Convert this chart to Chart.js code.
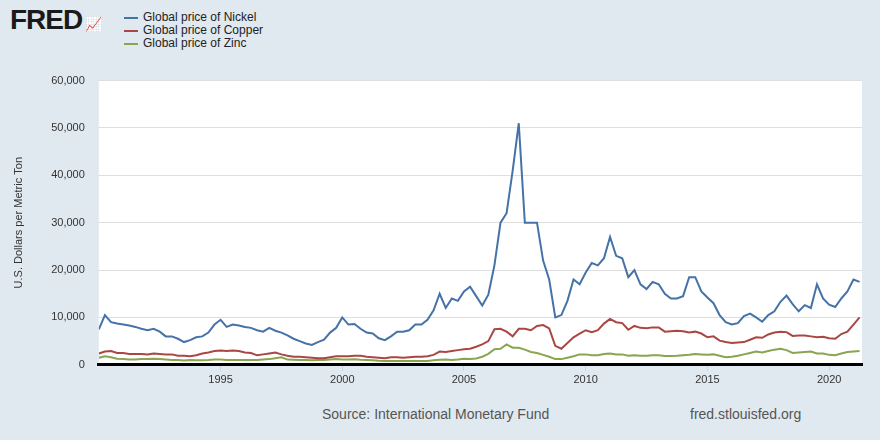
<!DOCTYPE html>
<html><head><meta charset="utf-8">
<script src="https://cdn.jsdelivr.net/npm/chart.js@4"></script>
<style>
body{margin:0;width:880px;height:440px;background:#e1e9f0;font-family:"Liberation Sans",Arial,sans-serif;position:relative;overflow:hidden}
#logo{position:absolute;left:10px;top:4px;font:bold 28px "Liberation Sans",Arial;color:#1a1a1a;letter-spacing:-1px}
#leg{position:absolute;left:124px;top:11px;font-size:12px;color:#222;line-height:13px}
#leg div span{display:inline-block;width:14px;height:2px;margin-right:5px;vertical-align:middle}
#src{position:absolute;left:322px;top:406px;font-size:14px;color:#555}
#url{position:absolute;left:690px;top:406px;font-size:14px;color:#555}
#wrap{position:absolute;left:0;top:60px;width:880px;height:330px}
</style></head><body>
<div id="logo">FRED<span style="font-size:14px;color:#4a7bb0"> &#x1F4C8;</span></div>
<div id="leg">
<div><span style="background:#4572a7"></span>Global price of Nickel</div>
<div><span style="background:#aa4643"></span>Global price of Copper</div>
<div><span style="background:#89a54e"></span>Global price of Zinc</div>
</div>
<div id="wrap"><canvas id="c" width="880" height="330"></canvas></div>
<div id="src">Source: International Monetary Fund</div>
<div id="url">fred.stlouisfed.org</div>
<script>
const startYear = 1990;
const nickel = [7.5,10.5,9.0,8.7, 8.5,8.3,8.0,7.6, 7.3,7.6,7.0,6.0, 6.0,5.5,4.8,5.2, 5.8,6.0,6.8,8.5, 9.5,8.0,8.5,8.3, 8.0,7.8,7.3,7.0, 7.8,7.2,6.8,6.2, 5.5,5.0,4.5,4.2, 4.8,5.3,6.8,7.8, 10.0,8.5,8.6,7.6, 6.8,6.6,5.6,5.2, 6.0,7.0,7.0,7.3, 8.5,8.5,9.5,11.5, 15.0,12.0,14.0,13.5, 15.5,16.5,14.5,12.5, 14.8,21.0,30.0,32.0, 41.0,51.0,30.0,30.0, 30.0,22.0,18.0,10.0, 10.5,13.5,18.0,17.0, 19.5,21.5,21.0,22.5, 27.0,23.0,22.5,18.5, 20.0,17.0,16.0,17.5, 17.0,15.0,14.0,14.0, 14.5,18.5,18.5,15.5, 14.2,13.0,10.5,9.0, 8.5,8.8,10.3,10.8, 10.0,9.1,10.5,11.3, 13.3,14.6,12.8,11.3, 12.6,12.0,17.0,14.0, 12.7,12.2,14.0,15.5, 18.0,17.5];
const copper = [2.4,2.8,2.9,2.5, 2.5,2.3,2.3,2.3, 2.2,2.4,2.3,2.2, 2.2,1.9,1.9,1.8, 2.0,2.4,2.6,2.9, 3.0,2.9,3.0,2.9, 2.6,2.5,2.0,2.2, 2.4,2.6,2.2,1.9, 1.7,1.7,1.6,1.5, 1.4,1.4,1.6,1.8, 1.8,1.8,1.9,1.9, 1.7,1.6,1.5,1.4, 1.6,1.6,1.5,1.6, 1.7,1.7,1.8,2.1, 2.8,2.7,2.9,3.1, 3.3,3.4,3.8,4.3, 5.0,7.5,7.6,7.0, 6.0,7.6,7.6,7.3, 8.2,8.4,7.7,4.0, 3.4,4.6,5.8,6.6, 7.3,6.9,7.3,8.7, 9.7,9.0,8.8,7.4, 8.2,7.8,7.7,7.9, 7.9,7.0,7.1,7.2, 7.1,6.8,7.0,6.6, 5.8,6.0,5.1,4.8, 4.6,4.7,4.8,5.3, 5.8,5.7,6.4,6.8, 7.0,6.9,6.1,6.2, 6.2,6.0,5.8,5.9, 5.6,5.5,6.5,7.0, 8.5,10.0];
const zinc = [1.5,1.8,1.6,1.3, 1.2,1.1,1.1,1.2, 1.2,1.3,1.2,1.1, 1.0,1.0,0.9,1.0, 0.95,0.95,1.0,1.1, 1.1,1.0,1.0,1.0, 1.0,1.0,1.0,1.1, 1.2,1.4,1.6,1.1, 1.05,1.0,1.0,0.95, 1.0,1.0,1.1,1.2, 1.1,1.1,1.15,1.05, 1.0,0.95,0.85,0.8, 0.8,0.8,0.78,0.8, 0.8,0.8,0.82,0.95, 1.05,1.1,1.0,1.1, 1.3,1.25,1.35,1.7, 2.3,3.3,3.4,4.3, 3.6,3.6,3.2,2.7, 2.5,2.1,1.7,1.2, 1.2,1.5,1.8,2.2, 2.2,2.0,2.0,2.3, 2.4,2.2,2.2,1.9, 2.0,1.9,1.9,2.0, 2.0,1.85,1.85,1.9, 2.0,2.1,2.3,2.2, 2.1,2.2,1.9,1.6, 1.7,1.9,2.2,2.5, 2.8,2.6,2.9,3.2, 3.4,3.1,2.5,2.6, 2.7,2.8,2.4,2.4, 2.1,2.0,2.4,2.7, 2.8,2.9];
const yTicks = [0,10000,20000,30000,40000,50000,60000];
const xTicks = [1995,2000,2005,2010,2015,2020];
const pts = a => a.map((v,i)=>({x:startYear+i*0.25,y:v*1000}));
const ds = (l,a,c)=>({label:l,data:pts(a),borderColor:c,borderWidth:2,pointRadius:0,tension:0,fill:false});
new Chart(document.getElementById('c'),{type:'line',
data:{datasets:[ds('Nickel',nickel,'#4572a7'),ds('Copper',copper,'#aa4643'),ds('Zinc',zinc,'#89a54e')]},
options:{responsive:false,animation:false,layout:{padding:{left:12,right:18,top:0,bottom:0}},
plugins:{legend:{display:false},tooltip:{enabled:false}},
scales:{
x:{type:'linear',min:1990,max:2021.35,afterBuildTicks:s=>{s.ticks=xTicks.map(v=>({value:v}));},
 grid:{drawOnChartArea:false,drawTicks:true,tickLength:6,color:'#c8d4e4'},border:{color:'#000',width:3},
 ticks:{color:'#333',font:{size:11,family:'Liberation Sans'},callback:v=>String(v)}},
y:{min:0,max:60000,afterBuildTicks:s=>{s.ticks=yTicks.map(v=>({value:v}));},
 grid:{color:'#dedede',drawTicks:false},border:{display:false},
 title:{display:true,text:'U.S. Dollars per Metric Ton',color:'#333',padding:{top:0,bottom:12},font:{size:11,family:'Liberation Sans'}},
 ticks:{color:'#333',padding:14,font:{size:11,family:'Liberation Sans'},callback:v=>v.toLocaleString('en-US')}}
}},
plugins:[{id:'bg',beforeDraw(c){const a=c.chartArea,x=c.ctx;x.save();x.fillStyle='#fff';x.fillRect(a.left,a.top,a.right-a.left,a.bottom-a.top);x.restore();}}]
});
</script></body></html>
